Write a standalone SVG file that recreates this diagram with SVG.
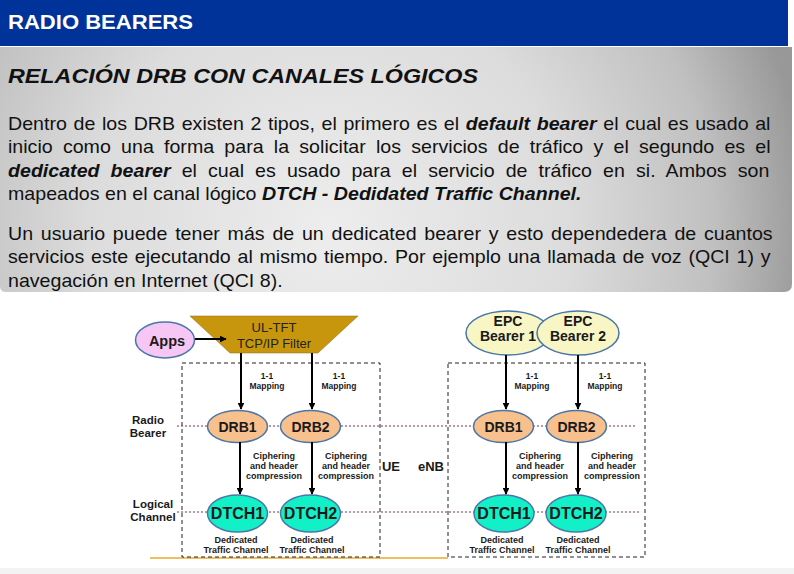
<svg xmlns="http://www.w3.org/2000/svg" width="794" height="574" viewBox="0 0 794 574">
<defs>
<radialGradient id="panelGrad" gradientUnits="userSpaceOnUse" cx="330" cy="230" r="480">
<stop offset="0" stop-color="#ededed"/>
<stop offset="0.5" stop-color="#dcdcdc"/>
<stop offset="0.8" stop-color="#c0c0c0"/>
<stop offset="1" stop-color="#989898"/>
</radialGradient>
<marker id="arr" viewBox="0 0 10 10" refX="9" refY="5" markerWidth="3.6" markerHeight="3.4" orient="auto" markerUnits="strokeWidth">
<path d="M0,0 L10,5 L0,10 z" fill="#000"/>
</marker>
</defs>
<style>
.para{font-family:"Liberation Sans",Arial,sans-serif;font-size:18px;fill:#111}
.bi{font-weight:bold;font-style:italic}
.lbl{font-family:"Liberation Sans",Arial,sans-serif;font-weight:bold;fill:#1a1a1a;text-anchor:middle}
.sm{font-size:9px}
.map{font-size:8.5px}
.side{font-size:11.5px}
.drb{fill:#f8c08c;stroke:#4a76a8;stroke-width:1.5}
.dtch{fill:#12f0c8;stroke:#4a76a8;stroke-width:1.5}
.epc{fill:#f8f6c4;stroke:#4a76a8;stroke-width:1.5}
.box{fill:none;stroke:#222;stroke-width:1;stroke-dasharray:4,3}
.dot{fill:none;stroke:#7a2a6a;stroke-width:1;stroke-dasharray:2,2}
.arrow{fill:none;stroke:#000;stroke-width:2;marker-end:url(#arr)}
</style>
<rect x="0" y="0" width="794" height="574" fill="#ffffff"/>
<rect x="0" y="568" width="794" height="6" fill="#f3f3f3"/>
<!-- header -->
<rect x="0" y="0" width="788" height="46" fill="#003399"/>
<text x="8" y="29" font-family="Liberation Sans,Arial,sans-serif" font-weight="bold" font-size="20" fill="#ffffff" textLength="185" lengthAdjust="spacingAndGlyphs">RADIO BEARERS</text>
<!-- gray panel -->
<path d="M0,47 H792 V284 Q792,292 784,292 H6 Q0,292 0,286 Z" fill="url(#panelGrad)"/>
<text x="8" y="83" font-family="Liberation Sans,Arial,sans-serif" font-weight="bold" font-style="italic" font-size="21" fill="#111" textLength="470" lengthAdjust="spacingAndGlyphs">RELACIÓN DRB CON CANALES LÓGICOS</text>
<g transform="translate(8,0) scale(1.09,1)">
<text class="para" x="0" y="130" word-spacing="1.1">Dentro de los DRB existen 2 tipos, el primero es el <tspan class="bi">default bearer</tspan> el cual es usado al</text>
<text class="para" x="0" y="153.3" word-spacing="4.39">inicio como una forma para la solicitar los servicios de tráfico y el segundo es el</text>
<text class="para" x="0" y="176.6" word-spacing="5.19"><tspan class="bi">dedicated bearer</tspan> el cual es usado para el servicio de tráfico en si. Ambos son</text>
<text class="para" x="0" y="200">mapeados en el canal lógico <tspan class="bi">DTCH - Dedidated Traffic Channel.</tspan></text>
<text class="para" x="0" y="240" word-spacing="2.12">Un usuario puede tener más de un dedicated bearer y esto dependedera de cuantos</text>
<text class="para" x="0" y="263.3" word-spacing="1.2">servicios este ejecutando al mismo tiempo. Por ejemplo una llamada de voz (QCI 1) y</text>
<text class="para" x="0" y="286.6">navegación en Internet (QCI 8).</text>
</g>

<!-- background structure -->
<g id="frames">
<line x1="150" y1="558" x2="448" y2="558" stroke="#f0c060" stroke-width="2"/>
<rect class="box" x="182" y="363" width="198" height="194"/>
<rect class="box" x="448" y="363" width="197" height="194"/>
<line class="dot" x1="177" y1="426" x2="637" y2="426"/>
<line class="dot" x1="177" y1="512" x2="640" y2="512"/>
<text class="lbl side" x="148" y="424">Radio</text>
<text class="lbl side" x="148" y="437">Bearer</text>
<text class="lbl side" x="153" y="508">Logical</text>
<text class="lbl side" x="153" y="521">Channel</text>
<text class="lbl" x="391" y="471" font-size="13">UE</text>
<text class="lbl" x="431" y="471" font-size="13">eNB</text>
</g>

<g id="apps">
<ellipse cx="165" cy="340" rx="29.5" ry="18" fill="#f6c6f4" stroke="#4a76a8" stroke-width="1.5"/>
<text class="lbl" x="167" y="345.5" font-size="14.5">Apps</text>
</g>
<g id="ultft">
<polygon points="190,316 358,316 318,353 230,353" fill="#c8960c" stroke="#8a6a10" stroke-width="0.5"/>
<text x="274" y="332" font-family="Liberation Sans,Arial,sans-serif" font-size="13" fill="#222" text-anchor="middle">UL-TFT</text>
<text x="274" y="348" font-family="Liberation Sans,Arial,sans-serif" font-size="13" fill="#222" text-anchor="middle">TCP/IP Filter</text>
</g>
<g id="epc1">
<ellipse class="epc" cx="508" cy="333" rx="42" ry="22"/>
<text class="lbl" x="508" y="326" font-size="14">EPC</text>
<text class="lbl" x="508" y="341" font-size="14">Bearer 1</text>
</g>
<g id="epc2">
<ellipse class="epc" cx="578" cy="333" rx="41" ry="22"/>
<text class="lbl" x="578" y="326" font-size="14">EPC</text>
<text class="lbl" x="578" y="341" font-size="14">Bearer 2</text>
</g>
<g id="ue-drb1">
<ellipse class="drb" cx="237.5" cy="426.5" rx="30" ry="16"/>
<text class="lbl" x="237.5" y="431.5" font-size="14">DRB1</text>
</g>
<g id="ue-drb2">
<ellipse class="drb" cx="310.5" cy="426.5" rx="30" ry="16"/>
<text class="lbl" x="310.5" y="431.5" font-size="14">DRB2</text>
</g>
<g id="enb-drb1">
<ellipse class="drb" cx="503.5" cy="426.5" rx="30" ry="16"/>
<text class="lbl" x="503.5" y="431.5" font-size="14">DRB1</text>
</g>
<g id="enb-drb2">
<ellipse class="drb" cx="576.5" cy="426.5" rx="30" ry="16"/>
<text class="lbl" x="576.5" y="431.5" font-size="14">DRB2</text>
</g>
<g id="ue-dtch1">
<ellipse class="dtch" cx="237.5" cy="513.5" rx="30" ry="18.5"/>
<text class="lbl" x="237.5" y="519" font-size="16">DTCH1</text>
<text class="lbl sm" x="236" y="543">Dedicated</text>
<text class="lbl sm" x="236" y="553">Traffic Channel</text>
</g>
<g id="ue-dtch2">
<ellipse class="dtch" cx="310.5" cy="513.5" rx="30" ry="18.5"/>
<text class="lbl" x="310.5" y="519" font-size="16">DTCH2</text>
<text class="lbl sm" x="312" y="543">Dedicated</text>
<text class="lbl sm" x="312" y="553">Traffic Channel</text>
</g>
<g id="enb-dtch1">
<ellipse class="dtch" cx="504" cy="513.5" rx="30" ry="18.5"/>
<text class="lbl" x="504" y="519" font-size="16">DTCH1</text>
<text class="lbl sm" x="502" y="543">Dedicated</text>
<text class="lbl sm" x="502" y="553">Traffic Channel</text>
</g>
<g id="enb-dtch2">
<ellipse class="dtch" cx="576" cy="513.5" rx="30" ry="18.5"/>
<text class="lbl" x="576" y="519" font-size="16">DTCH2</text>
<text class="lbl sm" x="578" y="543">Dedicated</text>
<text class="lbl sm" x="578" y="553">Traffic Channel</text>
</g>

<!-- connectors -->
<g id="connectors">
<line class="arrow" x1="195" y1="339" x2="226" y2="339"/>
<line class="arrow" x1="241" y1="353" x2="241" y2="409"/>
<line class="arrow" x1="312" y1="353" x2="312" y2="409"/>
<line class="arrow" x1="240" y1="442" x2="240" y2="494"/>
<line class="arrow" x1="312" y1="442" x2="312" y2="494"/>
<line class="arrow" x1="506" y1="355" x2="506" y2="409"/>
<line class="arrow" x1="578" y1="355" x2="578" y2="409"/>
<line class="arrow" x1="506" y1="442" x2="506" y2="494"/>
<line class="arrow" x1="578" y1="442" x2="578" y2="494"/>
<text class="lbl map" x="267" y="379">1-1</text>
<text class="lbl map" x="267" y="389">Mapping</text>
<text class="lbl map" x="339" y="379">1-1</text>
<text class="lbl map" x="339" y="389">Mapping</text>
<text class="lbl map" x="532" y="379">1-1</text>
<text class="lbl map" x="532" y="389">Mapping</text>
<text class="lbl map" x="605" y="379">1-1</text>
<text class="lbl map" x="605" y="389">Mapping</text>
<text class="lbl sm" x="274" y="459">Ciphering</text>
<text class="lbl sm" x="274" y="469">and header</text>
<text class="lbl sm" x="274" y="479">compression</text>
<text class="lbl sm" x="346" y="459">Ciphering</text>
<text class="lbl sm" x="346" y="469">and header</text>
<text class="lbl sm" x="346" y="479">compression</text>
<text class="lbl sm" x="540" y="459">Ciphering</text>
<text class="lbl sm" x="540" y="469">and header</text>
<text class="lbl sm" x="540" y="479">compression</text>
<text class="lbl sm" x="612" y="459">Ciphering</text>
<text class="lbl sm" x="612" y="469">and header</text>
<text class="lbl sm" x="612" y="479">compression</text>
</g>
</svg>
